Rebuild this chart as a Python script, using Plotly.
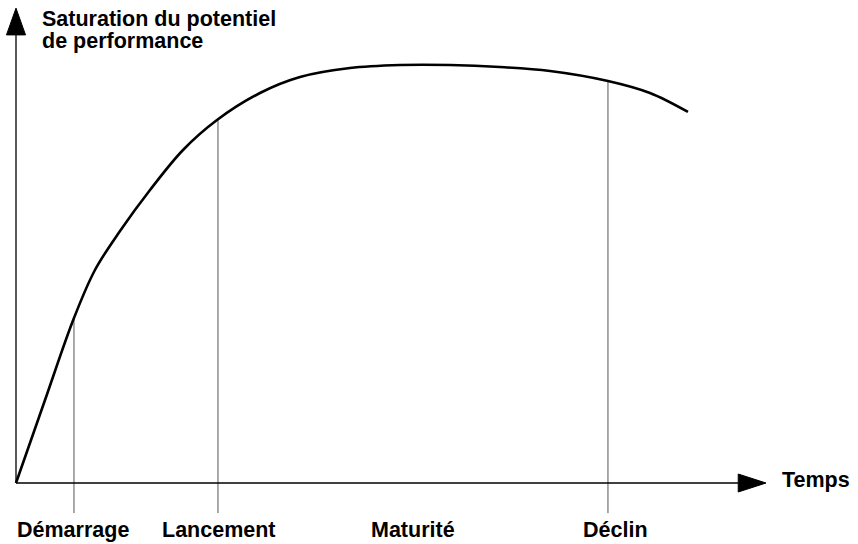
import numpy as np
import plotly.graph_objects as go

# Product life cycle: saturation of the performance potential over time
temps = [0, 3.87, 7.73, 10.53, 13.87, 17.87, 22.27, 26.8, 32.53, 37.87, 44.53,
         51.2, 57.87, 64.53, 71.2, 78.93, 84.53, 89.6]
saturation = [0, 19.86, 39.47, 50.96, 60.29, 70.1, 79.67, 86.84, 93.3, 97.13,
              99.28, 100, 100, 99.52, 98.56, 96.17, 93.3, 88.76]

# Phase boundaries and phase labels
limites = [7.73, 26.93, 78.93]
phases = ["Démarrage", "Lancement", "Maturité", "Déclin"]
phases_t = [7.6, 27.1, 52.9, 80.0]

axe_x_max = 100.0
axe_y_max = 113.6

FONT = "Liberation Sans, Arial, Helvetica, sans-serif"
TAILLE = 21.5

fig = go.Figure()

# Vertical phase separators, from the curve down below the time axis
for t in limites:
    s = float(np.interp(t, temps, saturation))
    fig.add_trace(go.Scatter(x=[t, t], y=[s, -7.2], mode="lines",
                             line=dict(color="#555555", width=1),
                             hoverinfo="skip", showlegend=False))

# Life-cycle curve
fig.add_trace(go.Scatter(x=temps, y=saturation, mode="lines",
                         line=dict(color="black", width=2.6, shape="spline", smoothing=1.0),
                         showlegend=False))

# Axes drawn as lines with filled arrow heads
shapes = [
    dict(type="line", x0=0, y0=0, x1=axe_x_max - 3.7, y1=0,
         line=dict(color="black", width=1.3)),
    dict(type="line", x0=0, y0=0, x1=0, y1=axe_y_max - 6.4,
         line=dict(color="black", width=1.3)),
    dict(type="path",
         path=f"M {axe_x_max - 3.7},-2.15 L {axe_x_max},0 L {axe_x_max - 3.7},2.15 Z",
         fillcolor="black", line=dict(color="black", width=1)),
    dict(type="path",
         path=f"M -1.27,{axe_y_max - 6.4} L 0,{axe_y_max} L 1.27,{axe_y_max - 6.4} Z",
         fillcolor="black", line=dict(color="black", width=1)),
]

annotations = [
    dict(x=3.2, y=111.1, text="<b>Saturation du potentiel</b>", xanchor="left",
         yanchor="middle", showarrow=False, font=dict(family=FONT, size=TAILLE, color="black")),
    dict(x=3.2, y=105.7, text="<b>de performance</b>", xanchor="left",
         yanchor="middle", showarrow=False, font=dict(family=FONT, size=TAILLE, color="black")),
    dict(x=101.9, y=0.7, text="<b>Temps</b>", xanchor="left", yanchor="middle",
         showarrow=False, font=dict(family=FONT, size=TAILLE, color="black")),
]
for nom, t in zip(phases, phases_t):
    annotations.append(dict(x=t, y=-11.2, text=f"<b>{nom}</b>", xanchor="center",
                            yanchor="middle", showarrow=False,
                            font=dict(family=FONT, size=TAILLE, color="black")))

fig.update_layout(
    width=858, height=544,
    margin=dict(l=0, r=0, t=0, b=0),
    paper_bgcolor="white", plot_bgcolor="white",
    xaxis=dict(range=[-2.133, 112.27], visible=False, fixedrange=True),
    yaxis=dict(range=[-14.59, 115.55], visible=False, fixedrange=True),
    shapes=shapes, annotations=annotations,
    showlegend=False,
)

fig.write_html("out.html")
